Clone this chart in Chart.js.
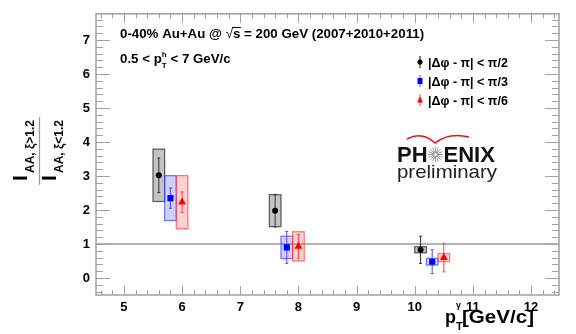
<!DOCTYPE html>
<html><head><meta charset="utf-8">
<script src="https://cdn.jsdelivr.net/npm/chart.js@4/dist/chart.umd.min.js"></script>
<style>html,body{margin:0;padding:0;background:#fff;}</style>
</head><body>
<canvas id="c" width="576" height="334"></canvas>
<script>
// ---- data ----
const seriesLabels = ['|\u0394\u03C6 - \u03C0| < \u03C0/2', '|\u0394\u03C6 - \u03C0| < \u03C0/3', '|\u0394\u03C6 - \u03C0| < \u03C0/6'];
const xTicks = [5, 6, 7, 8, 9, 10, 11, 12];
const yTicks = [0, 1, 2, 3, 4, 5, 6, 7];

const xHalf = [5.6, 7.6, 10.1];
const yHalf = [3.02, 1.98, 0.83];
const statHalf = [0.51, 0.48, 0.40];
const sysHalf = [0.77, 0.47, 0.09];

const xThird = [5.8, 7.8, 10.3];
const yThird = [2.35, 0.90, 0.48];
const statThird = [0.30, 0.47, 0.35];
const sysThird = [0.66, 0.33, 0.10];

const xSixth = [6.0, 8.0, 10.5];
const ySixth = [2.23, 0.93, 0.60];
const statSixth = [0.30, 0.35, 0.42];
const sysSixth = [0.78, 0.43, 0.12];

// ---- styles ----
const BOX_HALF = 0.1;
const groups = [
  {x:xHalf, y:yHalf, stat:statHalf, sys:sysHalf, fill:'rgba(60,60,60,0.3)', line:'rgba(40,40,40,0.75)', bar:'#333'},
  {x:xThird, y:yThird, stat:statThird, sys:sysThird, fill:'rgba(40,40,255,0.22)', line:'rgba(60,60,255,0.7)', bar:'#4a4aff'},
  {x:xSixth, y:ySixth, stat:statSixth, sys:sysSixth, fill:'rgba(255,40,40,0.22)', line:'rgba(255,60,60,0.7)', bar:'#ff4040'}
];
const FF = '"Liberation Sans", Arial, sans-serif';
const AXIS = '#a0a0a0';

function runs(ctx, x, y, parts){
  let cx = x;
  for (const p of parts){
    ctx.font = p[1];
    ctx.fillText(p[0], cx, y + (p[2]||0));
    if (!p[3]) cx += ctx.measureText(p[0]).width;
  }
  return cx;
}
function rotText(ctx, txt, bx, by, font){
  ctx.save(); ctx.translate(bx, by); ctx.rotate(-Math.PI/2);
  ctx.font = font; ctx.fillText(txt, 0, 0); ctx.restore();
}
function fitText(ctx, txt, x, y, font, w){
  ctx.font = font;
  const m = ctx.measureText(txt).width;
  ctx.save(); ctx.translate(x, y); ctx.scale(w/m, 1); ctx.fillText(txt, 0, 0); ctx.restore();
}

const deco = {
  id:'deco',
  beforeDatasetsDraw(chart){
    const {ctx, chartArea:a, scales:{x, y}} = chart;
    ctx.save();
    const y1 = y.getPixelForValue(1);
    ctx.strokeStyle = '#b4b4b4'; ctx.lineWidth = 2;
    ctx.beginPath(); ctx.moveTo(a.left, y1); ctx.lineTo(a.right, y1); ctx.stroke();
    for (const g of groups){
      g.x.forEach((xv, i) => {
        const l = x.getPixelForValue(xv - BOX_HALF), r = x.getPixelForValue(xv + BOX_HALF);
        const t = y.getPixelForValue(g.y[i] + g.sys[i]), b = y.getPixelForValue(g.y[i] - g.sys[i]);
        ctx.fillStyle = g.fill; ctx.fillRect(l, t, r-l, b-t);
        ctx.strokeStyle = g.line; ctx.lineWidth = 1.2; ctx.strokeRect(l, t, r-l, b-t);
      });
    }
    for (const g of groups){
      g.x.forEach((xv, i) => {
        const px = x.getPixelForValue(xv);
        const t = y.getPixelForValue(g.y[i] + g.stat[i]), b = y.getPixelForValue(g.y[i] - g.stat[i]);
        ctx.strokeStyle = g.bar; ctx.lineWidth = 1;
        ctx.beginPath(); ctx.moveTo(px, t); ctx.lineTo(px, b);
        ctx.moveTo(px-1.5, t); ctx.lineTo(px+1.5, t);
        ctx.moveTo(px-1.5, b); ctx.lineTo(px+1.5, b);
        ctx.stroke();
      });
    }
    ctx.restore();
  },
  afterDraw(chart){
    const {ctx, chartArea:a, scales:{x, y}} = chart;
    ctx.save();
    ctx.strokeStyle = AXIS; ctx.lineWidth = 1.5;
    ctx.strokeRect(a.left, a.top, a.right-a.left, a.bottom-a.top);
    ctx.lineWidth = 1;
    ctx.beginPath();
    for (let k = -4; k <= 38; k++){
      const v = k/5; if (v < y.min || v > y.max) continue;
      const py = Math.round(y.getPixelForValue(v)) + 0.5;
      const len = (k % 5 === 0) ? 14 : 7;
      ctx.moveTo(a.left, py); ctx.lineTo(a.left+len, py);
      ctx.moveTo(a.right, py); ctx.lineTo(a.right-len, py);
    }
    for (let k = 23; k <= 62; k++){
      const v = k/5; if (v < x.min || v > x.max) continue;
      const px = Math.round(x.getPixelForValue(v)) + 0.5;
      const len = (k % 5 === 0) ? 9 : 4.5;
      ctx.moveTo(px, a.bottom); ctx.lineTo(px, a.bottom-len);
      ctx.moveTo(px, a.top); ctx.lineTo(px, a.top+len);
    }
    ctx.stroke();

    ctx.fillStyle = '#000'; ctx.textBaseline = 'alphabetic'; ctx.textAlign = 'left';
    const B13 = 'bold 13.3px ' + FF;
    let cx = runs(ctx, 120, 38, [['0-40% Au+Au @ ', B13]]);
    ctx.font = '13.3px ' + FF; ctx.fillText('\u221A', cx, 38); cx += ctx.measureText('\u221A').width;
    ctx.font = B13; const sw = ctx.measureText('s').width;
    ctx.fillText('s', cx, 38);
    ctx.strokeStyle = '#000'; ctx.lineWidth = 1;
    ctx.beginPath(); ctx.moveTo(cx-1, 27.5); ctx.lineTo(cx+sw+0.5, 27.5); ctx.stroke();
    cx += sw;
    runs(ctx, cx, 38, [[' = 200 GeV (2007+2010+2011)', B13]]);

    cx = runs(ctx, 120, 63, [['0.5 < p', B13]]);
    runs(ctx, cx, 63, [['T', 'bold 8px ' + FF, 5, true], ['h', 'bold 8px ' + FF, -6]]);
    runs(ctx, cx+5, 63, [[' < 7 GeV/c', B13]]);

    // legend
    const legY = [62, 81, 100];
    const lx = 420;
    ctx.strokeStyle = '#000'; ctx.lineWidth = 1;
    ctx.beginPath(); ctx.moveTo(lx, legY[0]-6); ctx.lineTo(lx, legY[0]+6); ctx.stroke();
    ctx.fillStyle = '#000'; ctx.beginPath(); ctx.arc(lx, legY[0], 2.6, 0, Math.PI*2); ctx.fill();
    ctx.strokeStyle = '#4a4aff';
    ctx.beginPath(); ctx.moveTo(lx, legY[1]-6); ctx.lineTo(lx, legY[1]+6); ctx.stroke();
    ctx.fillStyle = '#0000ff'; ctx.fillRect(lx-2.5, legY[1]-3, 5, 6);
    ctx.strokeStyle = '#ff4040';
    ctx.beginPath(); ctx.moveTo(lx, legY[2]-6); ctx.lineTo(lx, legY[2]+6); ctx.stroke();
    ctx.fillStyle = '#ff0000'; ctx.beginPath();
    ctx.moveTo(lx, legY[2]-3.5); ctx.lineTo(lx+3, legY[2]+2.5); ctx.lineTo(lx-3, legY[2]+2.5); ctx.closePath(); ctx.fill();
    ctx.fillStyle = '#000';
    ctx.font = 'bold 12.5px ' + FF;
    seriesLabels.forEach((t, i) => ctx.fillText(t, 428, legY[i]+4.5));

    // PHENIX logo
    ctx.strokeStyle = '#e8141c'; ctx.lineWidth = 1.6;
    ctx.beginPath(); ctx.moveTo(407, 139); ctx.quadraticCurveTo(422, 131, 435, 143);
    ctx.quadraticCurveTo(449, 132, 469, 137); ctx.stroke();
    ctx.fillStyle = '#111';
    ctx.font = 'bold 22px ' + FF;
    ctx.fillText('PH', 397, 162);
    const phw = ctx.measureText('PH').width;
    const sx = 397 + phw + 8, sy = 154.5;
    ctx.strokeStyle = '#8a8a8a'; ctx.lineWidth = 0.9;
    ctx.beginPath();
    for (let k = 0; k < 16; k++){
      const ang = k*Math.PI/8;
      ctx.moveTo(sx + Math.cos(ang)*1.5, sy + Math.sin(ang)*1.5);
      ctx.lineTo(sx + Math.cos(ang)*7.5, sy + Math.sin(ang)*7.5);
    }
    ctx.stroke();
    ctx.fillText('ENIX', sx + 8, 162);
    ctx.fillStyle = '#222';
    fitText(ctx, 'preliminary', 397, 178, '19px ' + FF, 100);

    // x title
    ctx.fillStyle = '#000';
    cx = runs(ctx, 445, 323, [['p', 'bold 18px ' + FF]]);
    runs(ctx, cx, 323, [['T', 'bold 11px ' + FF, 7, true], ['\u03B3', 'bold 9px ' + FF, -15]]);
    fitText(ctx, '[GeV/c]', cx + 6, 323, 'bold 18px ' + FF, 72);

    // y title (rotated fraction)
    rotText(ctx, 'I', 27, 181, 'bold 21px ' + FF);
    rotText(ctx, 'AA, \u03BE>1.2', 34, 173, 'bold 12px ' + FF);
    ctx.strokeStyle = '#999'; ctx.lineWidth = 1.2;
    ctx.beginPath(); ctx.moveTo(39.5, 117); ctx.lineTo(39.5, 185); ctx.stroke();
    rotText(ctx, 'I', 56, 181, 'bold 21px ' + FF);
    rotText(ctx, 'AA, \u03BE<1.2', 63, 173, 'bold 12px ' + FF);
    ctx.restore();
  }
};

const tickFont = {family:'"Liberation Sans", Arial, sans-serif', weight:'bold', size:13};
new Chart(document.getElementById('c'), {
  type:'scatter',
  data:{datasets:[
    {label:seriesLabels[0], data:xHalf.map((v,i)=>({x:v, y:yHalf[i]})), pointStyle:'circle', pointRadius:3, backgroundColor:'#000', borderColor:'#000', borderWidth:0},
    {label:seriesLabels[1], data:xThird.map((v,i)=>({x:v, y:yThird[i]})), pointStyle:'rect', pointRadius:4.3, backgroundColor:'#0000ff', borderColor:'#0000ff', borderWidth:0},
    {label:seriesLabels[2], data:xSixth.map((v,i)=>({x:v, y:ySixth[i]})), pointStyle:'triangle', pointRadius:4.6, backgroundColor:'#ff0000', borderColor:'#ff0000', borderWidth:0}
  ]},
  options:{
    responsive:false, animation:false, devicePixelRatio:1,
    layout:{padding:{top:6, right:17, left:0, bottom:0}},
    plugins:{legend:{display:false}, tooltip:{enabled:false}},
    scales:{
      x:{type:'linear', min:4.52, max:12.48,
        afterBuildTicks:s=>{s.ticks = xTicks.map(v=>({value:v}));},
        afterFit:s=>{s.height = 39;},
        grid:{display:false, drawTicks:false}, border:{display:false},
        ticks:{padding:5, color:'#000', font:tickFont, autoSkip:false, maxRotation:0}},
      y:{type:'linear', min:-0.5, max:7.77,
        afterBuildTicks:s=>{s.ticks = yTicks.map(v=>({value:v}));},
        afterFit:s=>{s.width = 96;},
        grid:{display:false, drawTicks:false}, border:{display:false},
        ticks:{padding:6, color:'#000', font:tickFont, autoSkip:false}}
    }
  },
  plugins:[deco]
});
</script>
</body></html>
